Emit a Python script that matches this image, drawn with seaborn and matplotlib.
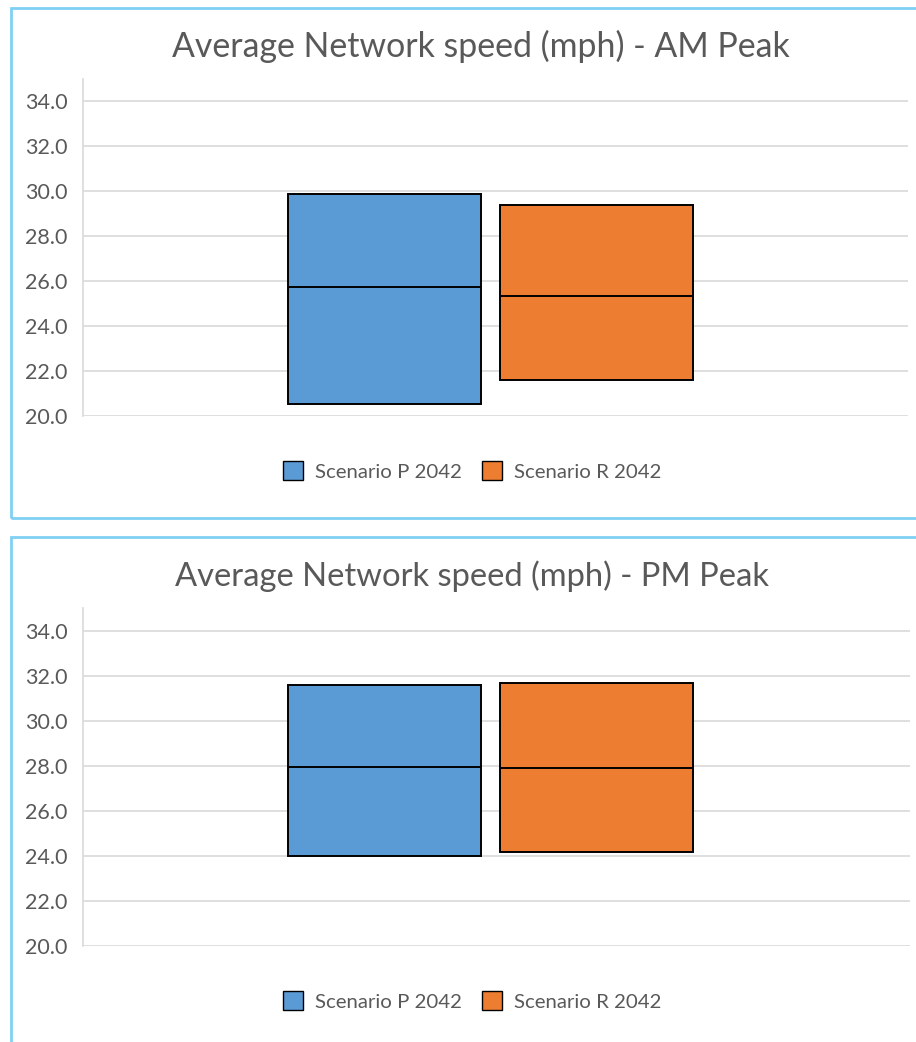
import matplotlib
matplotlib.use("Agg")
import matplotlib.pyplot as plt
import matplotlib.patches as mpatches
import seaborn as sns
import pandas as pd

# ---- data ----
scenarios = ["Scenario P 2042", "Scenario R 2042"]
am_min = [20.55, 21.6]
am_median = [25.75, 25.35]
am_max = [29.9, 29.4]
pm_min = [24.0, 24.15]
pm_median = [27.95, 27.9]
pm_max = [31.6, 31.65]
titles = ["Average Network speed (mph) - AM Peak",
          "Average Network speed (mph) - PM Peak"]
yticks = [20, 22, 24, 26, 28, 30, 32, 34]

colors = ["#5B9BD5", "#ED7D31"]
text_color = "#595959"
grid_color = "#D9D9D9"
border_color = "#7FD0F3"


def build_frame(mins, meds, maxs):
    rows = []
    for s, lo, md, hi in zip(scenarios, mins, meds, maxs):
        # box spans min..max with the median line in between
        for v in (lo, lo, md, hi, hi):
            rows.append({"group": "", "scenario": s, "speed": v})
    return pd.DataFrame(rows)


sns.set_theme(style="white")
plt.rcParams["font.family"] = ["Lato", "DejaVu Sans"]

W, H = 916, 1042
fig = plt.figure(figsize=(W / 100, H / 100), dpi=100)


def fx(px):
    return px / W


def fy(py):
    return 1 - py / H


# panel borders
for top, bottom in [(8, 518), (537, 1060)]:
    rect = mpatches.Rectangle((fx(11), fy(bottom)), fx(930) - fx(11), fy(top) - fy(bottom),
                              transform=fig.transFigure, fill=False,
                              edgecolor=border_color, linewidth=2.0, zorder=0)
    fig.add_artist(rect)

panels = [
    dict(df=build_frame(am_min, am_median, am_max), ax_top=79, ax_bot=416, right=908,
         title=titles[0], title_y=46, title_x=481, title_size=24.4, leg_y=471),
    dict(df=build_frame(pm_min, pm_median, pm_max), ax_top=608, ax_bot=946, right=910,
         title=titles[1], title_y=576, title_x=472, title_size=23.6, leg_y=1001),
]

for p in panels:
    ax = fig.add_axes([fx(83), fy(p["ax_bot"]), fx(p["right"]) - fx(83),
                       fy(p["ax_top"]) - fy(p["ax_bot"])])
    sns.boxplot(data=p["df"], x="group", y="speed", hue="scenario",
                hue_order=scenarios, palette=colors, saturation=1,
                width=0.8, gap=0.09, whis=0, showfliers=False, showcaps=False,
                linecolor="black", linewidth=1.4, legend=False, ax=ax,
                medianprops=dict(color="black", linewidth=1.4), zorder=3)
    ax.set_ylim(20, 35)
    ax.set_xlim(-0.768, 0.768 + (p["right"] - 83) / 530 - 1.536)
    ax.set_yticks(yticks)
    ax.set_yticklabels([f"{v:.1f}" for v in yticks], color=text_color, fontsize=15.5)
    ax.tick_params(axis="y", length=0, pad=11)
    ax.set_xticks([])
    ax.set_xlabel("")
    ax.set_ylabel("")
    ax.yaxis.grid(True, color=grid_color, linewidth=1.2)
    ax.set_axisbelow(True)
    for side in ["top", "right", "bottom"]:
        ax.spines[side].set_visible(False)
    ax.spines["left"].set_color(grid_color)
    ax.spines["left"].set_linewidth(1.2)

    fig.text(fx(p["title_x"]), fy(p["title_y"]), p["title"], ha="center", va="center",
             fontsize=p["title_size"], color=text_color)

    handles = [mpatches.Patch(facecolor=c, edgecolor="black", linewidth=1.0, label=s)
               for c, s in zip(colors, scenarios)]
    fig.legend(handles=handles, loc="center", bbox_to_anchor=(fx(472), fy(p["leg_y"])),
               ncol=2, frameon=False, fontsize=14.7, handlelength=1.0, handleheight=1.0,
               handletextpad=0.55, columnspacing=1.0, labelcolor=text_color)

fig.savefig("out.png", dpi=100)
